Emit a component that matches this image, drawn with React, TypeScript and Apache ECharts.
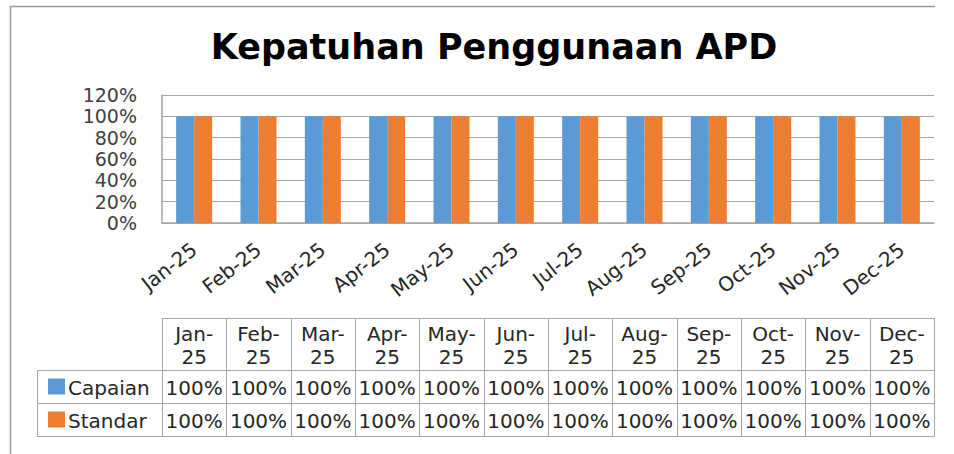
import React, { useEffect, useRef } from "react";
import * as echarts from "echarts";

const chartTitle = "Kepatuhan Penggunaan APD";
const categories = [
  "Jan-25", "Feb-25", "Mar-25", "Apr-25", "May-25", "Jun-25",
  "Jul-25", "Aug-25", "Sep-25", "Oct-25", "Nov-25", "Dec-25",
];
const seriesNames = ["Capaian", "Standar"];
const capaian = [100, 100, 100, 100, 100, 100, 100, 100, 100, 100, 100, 100];
const standar = [100, 100, 100, 100, 100, 100, 100, 100, 100, 100, 100, 100];
const yMin = 0;
const yMax = 120;
const yStep = 20;

const colors = ["#5B9BD5", "#ED7D31"];
const FONT = "DejaVu Sans";
const GRAY = "#a6a6a6";

// layout
const W = 954;
const H = 454;
const GL = 162;
const GR = 934;
const GT = 95;
const GB = 223;
const HEAD_T = 318;
const ROW1_T = 370;
const ROW2_T = 403;
const ROW_B = 436;
const LEG_L = 37;

function buildGraphic() {
  const els: any[] = [];
  const colW = (GR - GL) / categories.length;
  const line = (x1: number, y1: number, x2: number, y2: number, stroke = GRAY, lw = 1) => ({
    type: "line",
    shape: { x1, y1, x2, y2 },
    style: { stroke, lineWidth: lw },
    silent: true,
  });
  // outer chart border (left and top)
  els.push({
    type: "polyline",
    shape: { points: [[10.5, H], [10.5, 6.5], [GR + 1, 6.5]] },
    style: { stroke: "#9a9a9a", lineWidth: 1.5, fill: null },
    silent: true,
  });
  // table horizontal lines
  els.push(line(GL, HEAD_T + 0.5, GR, HEAD_T + 0.5));
  els.push(line(LEG_L, ROW1_T + 0.5, GR, ROW1_T + 0.5));
  els.push(line(LEG_L, ROW2_T + 0.5, GR, ROW2_T + 0.5));
  els.push(line(LEG_L, ROW_B + 0.5, GR, ROW_B + 0.5));
  // vertical lines
  els.push(line(LEG_L + 0.5, ROW1_T, LEG_L + 0.5, ROW_B + 1));
  for (let i = 0; i <= categories.length; i++) {
    const x = Math.round(GL + i * colW) + 0.5;
    els.push(line(x, HEAD_T, x, ROW_B + 1));
  }
  // header texts
  categories.forEach((c, i) => {
    const cx = GL + (i + 0.5) * colW;
    els.push({
      type: "text",
      x: cx,
      y: (HEAD_T + ROW1_T) / 2 + 1,
      silent: true,
      style: {
        text: c.replace("-", "-\n"),
        align: "center",
        verticalAlign: "middle",
        fontFamily: FONT,
        fontSize: 20,
        lineHeight: 23,
        fill: "#262626",
      },
    });
  });
  const rows = [capaian, standar];
  const rowTops = [ROW1_T, ROW2_T];
  rows.forEach((vals, r) => {
    const cy = (rowTops[r] + (r === 0 ? ROW2_T : ROW_B)) / 2 + 1;
    // legend key
    els.push({
      type: "rect",
      shape: { x: 48, y: cy - 9, width: 17, height: 16 },
      style: { fill: colors[r] },
      silent: true,
    });
    els.push({
      type: "text",
      x: 68,
      y: cy,
      silent: true,
      style: {
        text: seriesNames[r],
        align: "left",
        verticalAlign: "middle",
        fontFamily: FONT,
        fontSize: 20,
        fill: "#262626",
      },
    });
    vals.forEach((v, i) => {
      els.push({
        type: "text",
        x: GL + (i + 0.5) * colW,
        y: cy,
        silent: true,
        style: {
          text: v + "%",
          align: "center",
          verticalAlign: "middle",
          fontFamily: FONT,
          fontSize: 20,
          fill: "#262626",
        },
      });
    });
  });
  return els;
}

export default function App() {
  const ref = useRef<HTMLDivElement>(null);
  useEffect(() => {
    if (!ref.current) return;
    const chart = echarts.init(ref.current, undefined, { renderer: "svg" });
    chart.setOption({
      animation: false,
      backgroundColor: "#ffffff",
      title: {
        text: chartTitle,
        left: 494,
        top: 29,
        textAlign: "center",
        padding: 0,
        textStyle: {
          fontFamily: FONT,
          fontWeight: "bold",
          fontSize: 35,
          color: "#000000",
        },
      },
      grid: {
        left: GL,
        right: W - GR,
        top: GT,
        bottom: H - GB,
        containLabel: false,
      },
      xAxis: {
        type: "category",
        data: categories,
        axisLine: { show: true, lineStyle: { color: GRAY, width: 1.5 } },
        axisTick: { show: false },
        axisLabel: {
          rotate: 38,
          margin: 24,
          interval: 0,
          fontFamily: FONT,
          fontSize: 20,
          color: "#262626",
        },
      },
      yAxis: {
        type: "value",
        min: yMin,
        max: yMax,
        interval: yStep,
        axisLine: { show: true, lineStyle: { color: GRAY, width: 1.5 } },
        axisTick: { show: false },
        splitLine: { show: true, lineStyle: { color: GRAY, width: 1 } },
        axisLabel: {
          formatter: (v: number) => Math.round(v) + "%",
          margin: 25,
          fontFamily: FONT,
          fontSize: 19,
          lineHeight: 19,
          color: "#404040",
        },
      },
      series: [
        {
          name: seriesNames[0],
          type: "bar",
          data: capaian,
          barWidth: 18,
          barGap: "0%",
          itemStyle: { color: colors[0] },
        },
        {
          name: seriesNames[1],
          type: "bar",
          data: standar,
          barWidth: 18,
          barGap: "0%",
          itemStyle: { color: colors[1] },
        },
      ],
      graphic: buildGraphic(),
    });
    return () => chart.dispose();
  }, []);
  return (
    <div
      ref={ref}
      style={{ position: "fixed", left: 0, top: 0, width: W, height: H, background: "#fff" }}
    />
  );
}
